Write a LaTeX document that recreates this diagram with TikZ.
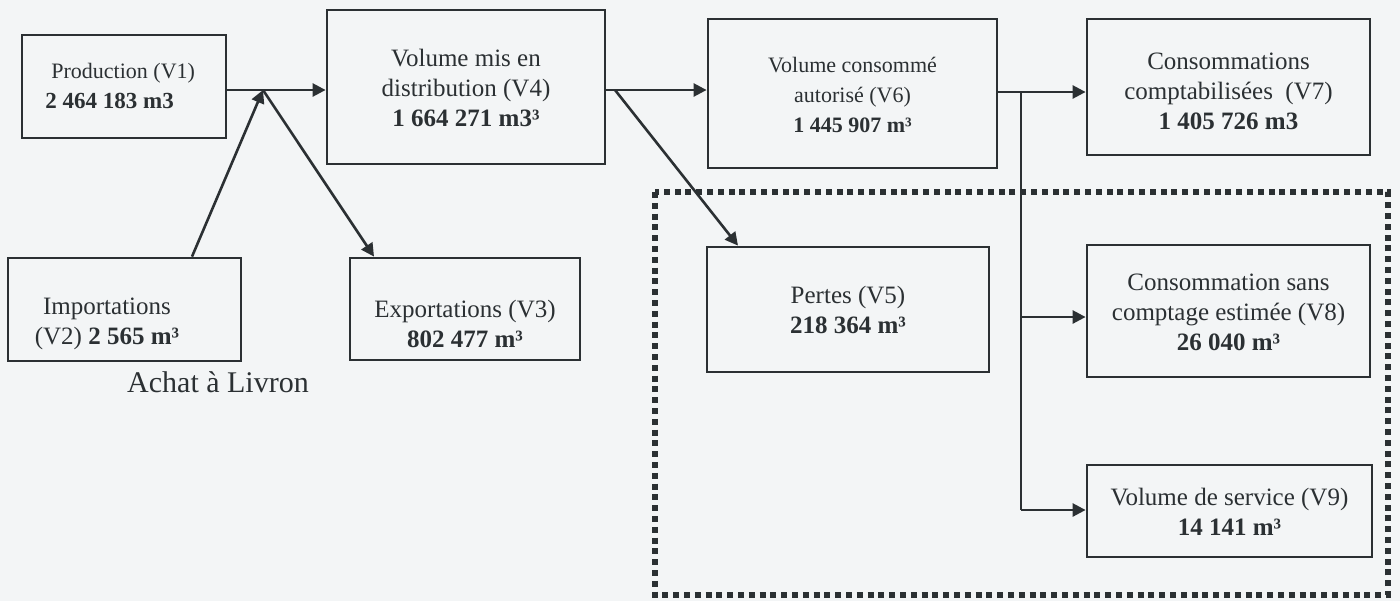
\documentclass[tikz,border=0pt]{standalone}
\usepackage{fontspec}
\setmainfont{Liberation Serif}
\usetikzlibrary{arrows.meta,calc}
\definecolor{ink}{HTML}{2B3033}
\definecolor{paper}{HTML}{F3F5F6}
\tikzset{
  box/.style={draw=ink, line width=1.4pt, rectangle, inner sep=0pt},
  txt/.style={text=ink, align=center, inner sep=0pt, font=\fontsize{12.5}{15}\selectfont},
  smalltxt/.style={text=ink, align=center, inner sep=0pt, font=\fontsize{11}{15}\selectfont},
  flow/.style={draw=ink, line width=1.3pt, -{Triangle[length=6.5pt,width=6.5pt]}},
  plain/.style={draw=ink, line width=1.3pt},
  dotted frame/.style={draw=ink, line width=2.6pt, dash pattern=on 3pt off 2.4pt},
}
\begin{document}
\begin{tikzpicture}[x=0.5pt,y=-0.5pt]
\useasboundingbox[fill=paper] (0,0) rectangle (1400,601);

% dotted frame
\draw[dotted frame] (655,192) rectangle (1388,595);

% boxes
\node[box, minimum width=102pt, minimum height=51.5pt] (P) at (124,86.5) {};
\node[smalltxt, align=left, anchor=west] (Ptxt) at (45,86) {\hspace*{3pt}Production (V1)\\\fontsize{11.5}{15}\selectfont\bfseries 2 464 183 m3};

\node[box, minimum width=116.5pt, minimum height=51.5pt] (I) at (124.5,309.5) {};
\node[txt] (Itxt) at (107,324) {Importations\\(V2) \textbf{2 565 m³}};

\node[box, minimum width=139pt, minimum height=77pt] (V4) at (466,87) {};
\node[txt] (V4txt) at (466,88) {Volume mis en\\distribution (V4)\\\textbf{1 664 271 m3³}};

\node[box, minimum width=115pt, minimum height=51pt] (E) at (465,309) {};
\node[txt] (Etxt) at (465,324) {Exportations (V3)\\\textbf{802 477 m³}};

\node[box, minimum width=144.5pt, minimum height=74.5pt] (V6) at (852.5,93.5) {};
\node[smalltxt] (V6txt) at (852.5,95) {Volume consommé\\autorisé (V6)\\\textbf{1 445 907 m³}};

\node[box, minimum width=141pt, minimum height=62.5pt] (V5) at (848,309.5) {};
\node[txt] (V5txt) at (848,310) {Pertes (V5)\\\textbf{218 364 m³}};

\node[box, minimum width=141.5pt, minimum height=68pt] (V7) at (1228.5,87) {};
\node[txt] (V7txt) at (1228.5,91) {Consommations\\comptabilisées\ \ (V7)\\\textbf{1 405 726 m3}};

\node[box, minimum width=141.5pt, minimum height=66pt] (V8) at (1228.5,311) {};
\node[txt] (V8txt) at (1228.5,312) {Consommation sans\\comptage estimée (V8)\\\textbf{26 040 m³}};

\node[box, minimum width=142.5pt, minimum height=46pt] (V9) at (1229.5,511) {};
\node[txt] (V9txt) at (1229.5,511.5) {Volume de service (V9)\\\textbf{14 141 m³}};

\node[text=ink, inner sep=0pt, font=\fontsize{15}{18}\selectfont] (achat) at (218,382) {Achat à Livron};

% junction points
\coordinate (J) at (263,90);
\coordinate (K) at (615,90);
\coordinate (B) at (1021,92);

% connectors
\draw[flow] (P.east |- J) -- (V4.west |- J);
\draw[flow] ($(I.north)+(67.5,0)$) -- (J);
\draw[flow] (J) -- ($(E.north)+(-91,0)$);
\draw[flow] (V4.east |- K) -- (V6.west |- K);
\draw[flow] (K) -- ($(V5.north)+(-110,0)$);
\draw[flow] (V6.east |- B) -- (V7.west |- B);
\draw[plain] (B) -- (B |- 0,510);
\draw[flow] (B |- 0,317) -- (V8.west |- 0,317);
\draw[flow] (B |- 0,510) -- (V9.west |- 0,510);
\end{tikzpicture}
\end{document}
